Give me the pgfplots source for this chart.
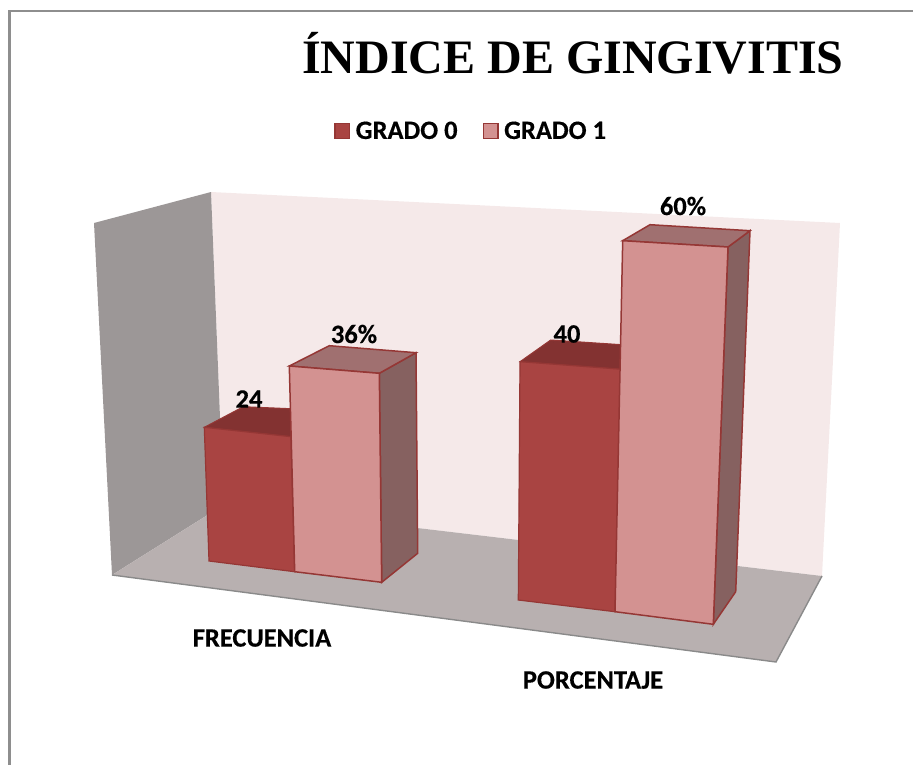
\documentclass[border=0pt]{standalone}
\usepackage{fontspec}
\setmainfont{Carlito}
\newfontfamily\titlefont{Liberation Serif}
\usepackage{pgfplots}
\pgfplotsset{compat=1.18}
\definecolor{wallback}{HTML}{F5E9E9}
\definecolor{wallleft}{HTML}{9C9797}
\definecolor{floorc}{HTML}{B8B0B0}
\definecolor{flooredge}{HTML}{8A8A8A}
\definecolor{darkfront}{HTML}{A94442}
\definecolor{darktop}{HTML}{833231}
\definecolor{lightfront}{HTML}{D39291}
\definecolor{lighttop}{HTML}{A07070}
\definecolor{lightside}{HTML}{866160}
\definecolor{edgec}{HTML}{953735}
\definecolor{framec}{HTML}{8E8E8E}
\newcommand{\lab}{\bfseries\fontsize{26.5}{28}\selectfont\addfontfeature{FakeBold=0.4}}
\begin{document}
\begin{tikzpicture}
\begin{axis}[
  width=913pt, height=765pt, scale only axis,
  xmin=0, xmax=913, ymin=0, ymax=765, y dir=reverse,
  hide axis, clip=true,
  legend style={at={(axis cs:334,131)}, anchor=west, draw=none, fill=none,
    font=\lab, legend columns=2,
    /tikz/every odd column/.append style={column sep=3.5pt},
    /tikz/every even column/.append style={column sep=23pt},
    inner sep=0pt},
  legend image code/.code={
    \draw[#1,line width=1.6pt] (0.8pt,-7.5pt) rectangle (15.2pt,7.5pt);
  },
]
\path[use as bounding box] (axis cs:0,0) rectangle (axis cs:913,765);
% frame
\addplot[forget plot, framec, line width=2.2pt] coordinates {(9.5,765) (9.5,11) (913,11)};
% walls and floor
\addplot[forget plot, fill=wallback, draw=none] coordinates {(211,192) (840,223) (822,576) (223.5,505)} -- cycle;
\addplot[forget plot, fill=wallleft, draw=none] coordinates {(94,223) (211,192) (223.5,505) (112,575)} -- cycle;
\addplot[forget plot, fill=floorc, draw=none] coordinates {(112,575) (223.5,505) (822,576) (776,662)} -- cycle;
\addplot[forget plot, flooredge, line width=1.4pt] coordinates {(112,575) (776,662) (822,576)};
% FRECUENCIA, GRADO 0
\addplot[forget plot, fill=darktop, draw=edgec, line width=1pt] coordinates {(204.3,427.3) (243.3,406.7) (291,408.7) (291,436.7)} -- cycle;
\addplot[fill=darkfront, draw=edgec, line width=1.2pt] coordinates {(204.3,427.3) (291,436.7) (294.7,571.7) (209,561)} -- cycle;
\addlegendentry{GRADO 0}
% FRECUENCIA, GRADO 1
\addplot[forget plot, fill=lightside, draw=edgec, line width=1.5pt] coordinates {(379.3,373.3) (416,352.7) (417.7,553.3) (381.7,582.3)} -- cycle;
\addplot[forget plot, fill=lighttop, draw=edgec, line width=1.5pt] coordinates {(289.3,366) (329.3,345.7) (416,352.7) (379.3,373.3)} -- cycle;
\addplot[fill=lightfront, draw=edgec, line width=1.5pt] coordinates {(289.3,366) (379.3,373.3) (381.7,582.3) (294.7,571.7)} -- cycle;
\addlegendentry{GRADO 1}
% PORCENTAJE, GRADO 0
\addplot[forget plot, fill=darktop, draw=edgec, line width=1pt] coordinates {(520,361.7) (550.7,340) (622,344.7) (622,369.3)} -- cycle;
\addplot[forget plot, fill=darkfront, draw=edgec, line width=1.2pt] coordinates {(520,361.7) (622,369.3) (615,611.7) (518.3,600)} -- cycle;
% PORCENTAJE, GRADO 1
\addplot[forget plot, fill=lightside, draw=edgec, line width=1.5pt] coordinates {(728,247) (750,230.7) (735.7,591.7) (713.3,624.3)} -- cycle;
\addplot[forget plot, fill=lighttop, draw=edgec, line width=1.5pt] coordinates {(622.7,240.7) (650,224.7) (750,230.7) (728,247)} -- cycle;
\addplot[forget plot, fill=lightfront, draw=edgec, line width=1.5pt] coordinates {(622.7,240.7) (728,247) (713.3,624.3) (615,611.7)} -- cycle;
% texts
\node[font=\titlefont\bfseries\fontsize{48}{50}\selectfont, anchor=base] at (axis cs:573,74) {ÍNDICE DE GINGIVITIS};
\node[font=\lab] at (axis cs:249,399) {24};
\node[font=\lab] at (axis cs:354,334) {36\%};
\node[font=\lab] at (axis cs:567,334) {40};
\node[font=\lab] at (axis cs:683,206) {60\%};
\node[font=\lab] at (axis cs:262,638) {FRECUENCIA};
\node[font=\lab] at (axis cs:593,680) {PORCENTAJE};
\end{axis}
\end{tikzpicture}
\end{document}
